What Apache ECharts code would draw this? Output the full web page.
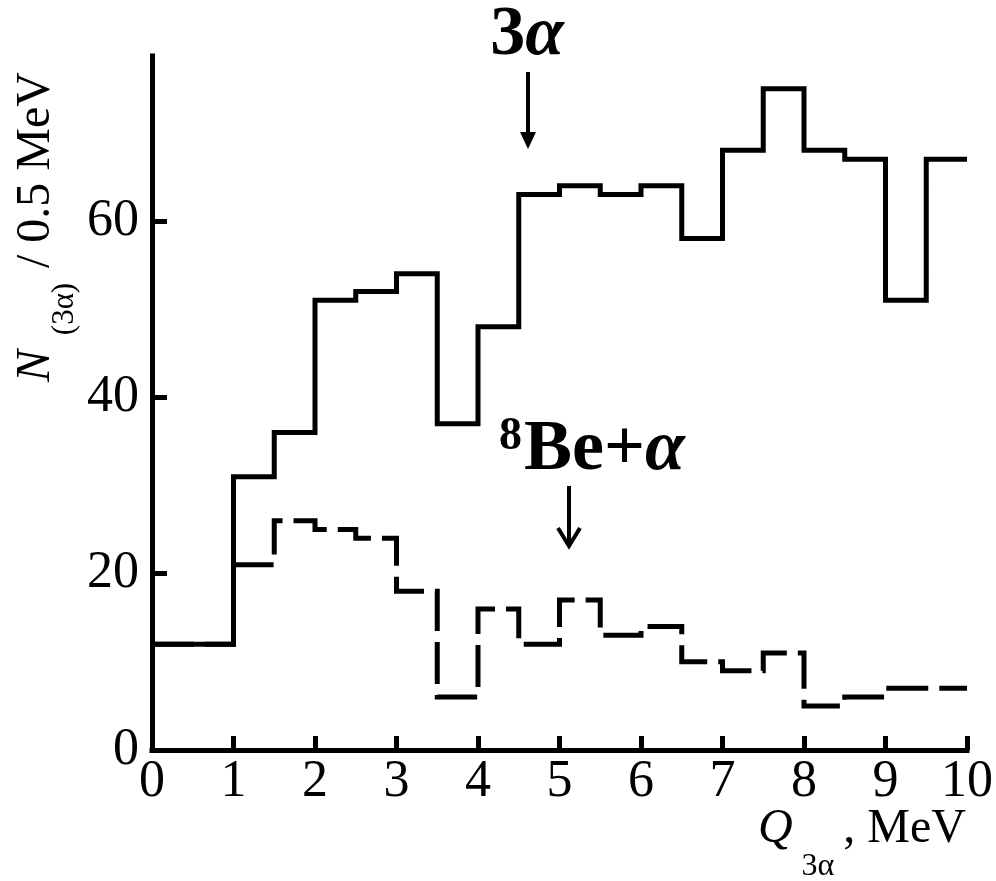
<!DOCTYPE html>
<html>
<head>
<meta charset="utf-8">
<style>
html,body{margin:0;padding:0;background:#fff;}
#chart{width:996px;height:881px;}
</style>
<script src="https://cdn.jsdelivr.net/npm/echarts@6/dist/echarts.min.js"></script>
</head>
<body>
<div id="chart"></div>
<script>
// Bin edges (MeV), 0.5 MeV bins
const binEdges = [0,0.5,1,1.5,2,2.5,3,3.5,4,4.5,5,5.5,6,6.5,7,7.5,8,8.5,9,9.5,10];
// 3α events per bin (solid)
const counts3a = [12,12,31,36,51,52,54,37,48,63,64,63,64,58,68,75,68,67,51,67];
// 8Be+α events per bin (dashed)
const countsBe = [12,12,21,26,25,24,18,6,16,12,17,13,14,10,9,11,5,6,7,7];
// Tick labels
const xTicks = [0,1,2,3,4,5,6,7,8,9,10];
const yTickLabels = [0,20,40,60];
const yTickMarks = [20,40,60];

function stepData(counts){
  return binEdges.map((e,i)=>[e, counts[Math.min(i, counts.length-1)]]);
}

const FONT = 'Liberation Serif';
const chart = echarts.init(document.getElementById('chart'), null, {renderer:'canvas'});

function mid(baseline, fs){ return baseline - 0.34*fs; }

chart.setOption({
  animation:false,
  backgroundColor:'#fff',
  grid:{left:152, right:29, top:56, bottom:131, containLabel:false},
  xAxis:{
    type:'value', min:0, max:10, interval:1,
    axisLine:{show:true, lineStyle:{color:'#000', width:5, cap:'square'}},
    axisTick:{show:true, inside:true, length:14, lineStyle:{color:'#000', width:5}, customValues:xTicks},
    axisLabel:{color:'#000', fontFamily:FONT, fontSize:52, margin:6, customValues:xTicks},
    splitLine:{show:false}
  },
  yAxis:{
    type:'value', min:0, max:78.7,
    axisLine:{show:true, lineStyle:{color:'#000', width:5, cap:'square'}},
    axisTick:{show:true, inside:true, length:15, lineStyle:{color:'#000', width:5}, customValues:yTickMarks},
    axisLabel:{color:'#000', fontFamily:FONT, fontSize:52, margin:13, customValues:yTickLabels},
    splitLine:{show:false}
  },
  series:[
    {
      name:'8Be+α', type:'line', step:'end', showSymbol:false, symbol:'none',
      data: stepData(countsBe),
      lineStyle:{color:'#000', width:5, type:[42,11], cap:'butt', join:'miter'},
      z:2
    },
    {
      name:'3α', type:'line', step:'end', showSymbol:false, symbol:'none',
      data: stepData(counts3a),
      lineStyle:{color:'#000', width:5, type:'solid', cap:'butt', join:'miter'},
      z:3
    }
  ],
  graphic:[
    // y-axis title, rotated
    {
      type:'group', x:53, y:382, rotation:Math.PI/2,
      children:[
        {type:'text', x:0, y:mid(0,48), style:{text:'N', fontFamily:FONT, fontSize:48, fontStyle:'italic', fill:'#000', align:'left', verticalAlign:'middle'}},
        {type:'text', x:73, y:mid(22,31), style:{text:'(3α)', fontFamily:FONT, fontSize:31, fill:'#000', align:'center', verticalAlign:'middle'}},
        {type:'text', x:102, y:mid(0,48), style:{text:' / 0.5 MeV', fontFamily:FONT, fontSize:48, fill:'#000', align:'left', verticalAlign:'middle'}}
      ]
    },
    // x-axis title
    {
      type:'group', x:758, y:846,
      children:[
        {type:'text', x:0, y:mid(0,48), style:{text:'Q', fontFamily:FONT, fontSize:48, fontStyle:'italic', fill:'#000', align:'left', verticalAlign:'middle'}},
        {type:'text', x:60, y:mid(31,32), style:{text:'3α', fontFamily:FONT, fontSize:32, fill:'#000', align:'center', verticalAlign:'middle'}},
        {type:'text', x:208, y:mid(0,48), style:{text:', MeV', fontFamily:FONT, fontSize:48, fill:'#000', align:'right', verticalAlign:'middle'}}
      ]
    },
    // 3α annotation
    {type:'text', x:527, y:mid(60,70), style:{
      text:'{a|3}{b|α}', align:'center', verticalAlign:'middle',
      rich:{a:{fontFamily:FONT, fontSize:70, fontWeight:'bold', fill:'#000'}, b:{fontFamily:FONT, fontSize:70, fontWeight:'bold', fontStyle:'italic', fill:'#000'}}
    }},
    {type:'line', shape:{x1:528, y1:72, x2:528, y2:134}, style:{stroke:'#000', lineWidth:4}},
    {type:'polygon', shape:{points:[[520,132],[536,132],[528,149]]}, style:{fill:'#000'}},
    // 8Be+α annotation
    {type:'text', x:499, y:mid(453,46), style:{text:'8', fontFamily:FONT, fontSize:46, fontWeight:'bold', fill:'#000', align:'left', verticalAlign:'middle'}},
    {type:'text', x:524, y:mid(475,72), style:{
      text:'{a|Be+}{b|α}', align:'left', verticalAlign:'middle',
      rich:{a:{fontFamily:FONT, fontSize:72, fontWeight:'bold', fill:'#000'}, b:{fontFamily:FONT, fontSize:72, fontWeight:'bold', fontStyle:'italic', fill:'#000'}}
    }},
    {type:'line', shape:{x1:569, y1:486, x2:569, y2:545}, style:{stroke:'#000', lineWidth:4}},
    {type:'polyline', shape:{points:[[558,528],[569,546],[580,528]]}, style:{stroke:'#000', lineWidth:4, lineJoin:'miter', fill:null}}
  ]
});
</script>
</body>
</html>
